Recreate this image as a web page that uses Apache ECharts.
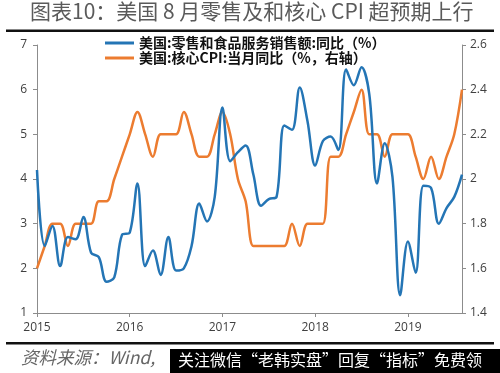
<!DOCTYPE html>
<html>
<head>
<meta charset="utf-8">
<script src="https://cdn.jsdelivr.net/npm/echarts@6/dist/echarts.min.js"></script>
<style>html,body{margin:0;padding:0;background:#fff;}#c{width:500px;height:373px;}</style>
</head>
<body>
<div id="c"></div>
<script>
// ---- data ----
const years = ['2015', '2016', '2017', '2018', '2019'];
const lastYearMonths = 8; // Jan..Aug 2019
const seriesNames = ['美国:零售和食品服务销售额:同比（%）', '美国:核心CPI:当月同比（%，右轴）'];
// Retail & food services sales YoY (%), left axis, 2015-01 .. 2019-08
const retailYoY = [
  4.2, 2.5, 2.95, 2.05, 2.7, 2.65, 3.15, 2.35, 2.25, 1.7, 1.8, 2.75,
  2.8, 3.9, 2.05, 2.4, 1.85, 2.7, 1.95, 2.0, 2.5, 3.45, 3.05, 3.6,
  5.6, 4.4, 4.6, 4.75, 4.1, 3.4, 3.55, 3.6, 5.2, 5.1, 6.05, 5.3,
  4.3, 4.85, 4.95, 4.65, 6.45, 6.1, 6.5, 5.9, 3.9, 4.8, 4.05, 1.4,
  2.6, 1.9, 3.85, 3.8, 3.0, 3.35, 3.6, 4.1
];
// Core CPI YoY (%), right axis
const coreCPI = [
  1.6, 1.7, 1.8, 1.8, 1.7, 1.8, 1.8, 1.8, 1.9, 1.9, 2.0, 2.1,
  2.2, 2.3, 2.2, 2.1, 2.2, 2.2, 2.2, 2.3, 2.2, 2.1, 2.1, 2.2,
  2.3, 2.2, 2.0, 1.9, 1.7, 1.7, 1.7, 1.7, 1.7, 1.8, 1.7, 1.8,
  1.8, 1.8, 2.1, 2.1, 2.2, 2.3, 2.4, 2.2, 2.2, 2.1, 2.2, 2.2,
  2.2, 2.1, 2.0, 2.1, 2.0, 2.1, 2.2, 2.4
];
const leftTicks = [1, 7, 1];      // min, max, interval
const rightTicks = [1.4, 2.6, 0.2];
const titleText = '图表10：美国 8 月零售及和核心 CPI 超预期上行';
const sourceText = '资料来源：Wind,';
const overlayText = '关注微信“老韩实盘”回复“指标”免费领';

// categories
const months = [];
years.forEach((y, yi) => {
  const n = yi === years.length - 1 ? lastYearMonths : 12;
  for (let m = 1; m <= n; m++) months.push(y + '-' + (m < 10 ? '0' + m : m));
});

const chart = echarts.init(document.getElementById('c'), null, {renderer: 'canvas'});
const axisGray = '#8c8c8c';
const labelStyle = {color: '#404040', fontSize: 12, fontFamily: 'Open Sans, sans-serif'};
const isJan = (i, v) => String(v).slice(5) === '01';

chart.setOption({
  animation: false,
  backgroundColor: '#fff',
  grid: {left: 37, right: 38, top: 45, bottom: 60, containLabel: false},
  legend: {
    orient: 'vertical', left: 105, top: 36, itemGap: 1, padding: 0,
    icon: 'rect', itemWidth: 29, itemHeight: 3,
    textStyle: {fontFamily: 'Noto Sans CJK SC', fontWeight: 'bold', fontSize: 14, lineHeight: 14, color: '#111'},
    data: seriesNames
  },
  xAxis: {
    type: 'category', data: months, boundaryGap: false,
    axisLine: {lineStyle: {color: axisGray, width: 1}},
    axisTick: {show: true, interval: isJan, length: 4, lineStyle: {color: axisGray}},
    axisLabel: Object.assign({interval: isJan, margin: 9, formatter: v => v.slice(0, 4)}, labelStyle),
    splitLine: {show: false}
  },
  yAxis: [
    {
      type: 'value', min: leftTicks[0], max: leftTicks[1], interval: leftTicks[2],
      axisLine: {show: true, lineStyle: {color: axisGray}},
      axisTick: {show: true, length: 4, lineStyle: {color: axisGray}},
      axisLabel: Object.assign({margin: 10}, labelStyle),
      splitLine: {show: false}
    },
    {
      type: 'value', min: rightTicks[0], max: rightTicks[1], interval: rightTicks[2], position: 'right',
      axisLine: {show: true, lineStyle: {color: axisGray}},
      axisTick: {show: true, length: 4, lineStyle: {color: axisGray}},
      axisLabel: Object.assign({margin: 8, formatter: v => String(Math.round(v * 10) / 10)}, labelStyle),
      splitLine: {show: false}
    }
  ],
  series: [
    {name: seriesNames[0], type: 'line', data: retailYoY, yAxisIndex: 0, smooth: 0.35,
     showSymbol: false, lineStyle: {color: '#2475B5', width: 2.5}, itemStyle: {color: '#2475B5'}, z: 3},
    {name: seriesNames[1], type: 'line', data: coreCPI, yAxisIndex: 1, smooth: 0.35,
     showSymbol: false, lineStyle: {color: '#EC7C30', width: 2.5}, itemStyle: {color: '#EC7C30'}, z: 2}
  ],
  graphic: [
    {type: 'text', left: 30, top: 1, style: {text: titleText, font: '21px "Noto Sans CJK SC"', fill: '#5a5a5a'}},
    {type: 'rect', shape: {x: 6, y: 29.5, width: 488, height: 2.5}, style: {fill: '#111'}},
    {type: 'rect', shape: {x: 6, y: 342, width: 488, height: 2.5}, style: {fill: '#111'}},
    {type: 'text', left: 21, top: 349, style: {text: sourceText, font: 'italic 17.5px "Noto Sans CJK SC"', fill: '#666'}},
    {type: 'rect', shape: {x: 170, y: 349, width: 330, height: 24}, style: {fill: '#000'}},
    {type: 'text', left: 178, top: 352, style: {text: overlayText, font: '16px "Noto Sans CJK SC"', fill: '#fff'}}
  ]
});
</script>
</body>
</html>
